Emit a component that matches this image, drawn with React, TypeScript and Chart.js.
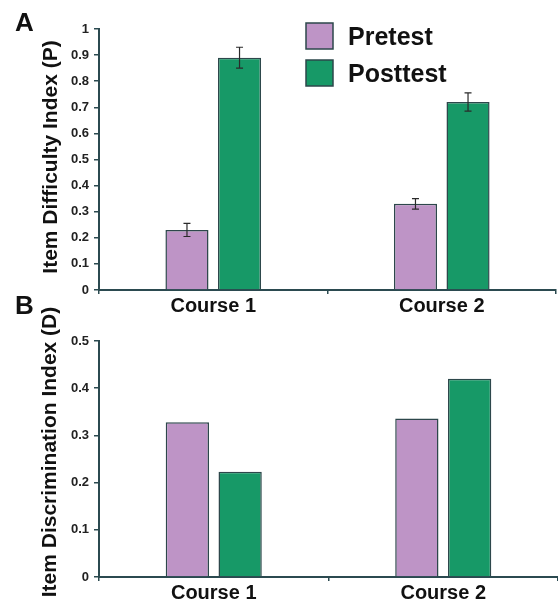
import React, { useEffect, useRef } from 'react';
import { Chart, registerables } from 'chart.js';

Chart.register(...registerables);

// ---------- data ----------
const categories = ['Course 1', 'Course 2'];
const seriesNames = ['Pretest', 'Posttest'];

const difficultyPre = [0.23, 0.33];
const difficultyPost = [0.89, 0.72];
const difficultyPreErr = [0.025, 0.02];
const difficultyPostErr = [0.04, 0.035];

const discriminationPre = [0.328, 0.336];
const discriminationPost = [0.223, 0.42];

const yTicksA = ['0', '0.1', '0.2', '0.3', '0.4', '0.5', '0.6', '0.7', '0.8', '0.9', '1'];
const yTicksB = ['0', '0.1', '0.2', '0.3', '0.4', '0.5'];

const panelLetters = ['A', 'B'];
const yTitles = ['Item Difficulty Index (P)', 'Item Discrimination Index (D)'];

// ---------- style ----------
const FONT = '"Liberation Sans", Arial, Helvetica, sans-serif';
const PRE_COLOR = '#be94c6';
const POST_COLOR = '#179967';
const EDGE = '#2d474b';
const AXIS = '#2b4a50';
const TEXT = '#111111';

Chart.defaults.font.family = FONT;

type PanelOpts = {
  letter: string;
  letterY: number;
  title: string;
  titleX: number;
  titleY: number;
  errors?: number[][];
  legend?: boolean;
};

function makeOverlay(o: PanelOpts) {
  return {
    id: 'overlay' + o.letter,
    afterDraw(chart: any) {
      const ctx = chart.ctx as CanvasRenderingContext2D;
      ctx.save();
      // error bars
      if (o.errors) {
        const ys = chart.scales.y;
        ctx.strokeStyle = '#2a2a2a';
        ctx.lineWidth = 1.2;
        o.errors.forEach((errs, di) => {
          const meta = chart.getDatasetMeta(di);
          const vals = chart.data.datasets[di].data as number[];
          meta.data.forEach((bar: any, j: number) => {
            const v = vals[j];
            const e = errs[j];
            const yTop = ys.getPixelForValue(v + e);
            const yBot = ys.getPixelForValue(v - e);
            const x = bar.x;
            const cap = 3.5;
            ctx.beginPath();
            ctx.moveTo(x, yTop);
            ctx.lineTo(x, yBot);
            ctx.moveTo(x - cap, yTop);
            ctx.lineTo(x + cap, yTop);
            ctx.moveTo(x - cap, yBot);
            ctx.lineTo(x + cap, yBot);
            ctx.stroke();
          });
        });
      }
      // panel letter
      ctx.fillStyle = TEXT;
      ctx.font = `bold 26px ${FONT}`;
      ctx.textAlign = 'left';
      ctx.textBaseline = 'alphabetic';
      ctx.fillText(o.letter, 15, o.letterY);
      // y title
      ctx.save();
      ctx.translate(o.titleX, o.titleY);
      ctx.rotate(-Math.PI / 2);
      ctx.font = `bold 21px ${FONT}`;
      ctx.textAlign = 'center';
      ctx.textBaseline = 'alphabetic';
      ctx.fillText(o.title, 0, 0);
      ctx.restore();
      // legend
      if (o.legend) {
        const ds = chart.data.datasets;
        const boxTops = [23, 60];
        ds.forEach((d: any, i: number) => {
          const top = boxTops[i];
          ctx.fillStyle = d.backgroundColor;
          ctx.fillRect(306, top, 27, 26);
          ctx.strokeStyle = EDGE;
          ctx.lineWidth = 1.5;
          ctx.strokeRect(306, top, 27, 26);
          ctx.fillStyle = TEXT;
          ctx.font = `bold 25px ${FONT}`;
          ctx.textAlign = 'left';
          ctx.textBaseline = 'alphabetic';
          ctx.fillText(d.label, 348, top + 21.5);
        });
      }
      ctx.restore();
    },
  };
}

function buildConfig(
  pre: number[],
  post: number[],
  yMax: number,
  tickLabels: string[],
  padTop: number,
  padRight: number,
  xHeight: number,
  overlay: any
): any {
  return {
    type: 'bar',
    data: {
      labels: categories,
      datasets: [
        {
          label: seriesNames[0],
          data: pre,
          backgroundColor: PRE_COLOR,
          borderColor: EDGE,
          borderWidth: 1.5,
        },
        {
          label: seriesNames[1],
          data: post,
          backgroundColor: POST_COLOR,
          borderColor: EDGE,
          borderWidth: 1.5,
        },
      ],
    },
    options: {
      responsive: false,
      animation: false,
      events: [],
      layout: { padding: { top: padTop, right: padRight, left: 0, bottom: 0 } },
      datasets: { bar: { categoryPercentage: 0.46, barPercentage: 0.82 } },
      plugins: {
        legend: { display: false },
        tooltip: { enabled: false },
        title: { display: false },
      },
      scales: {
        x: {
          z: 1,
          grid: {
            offset: true,
            drawOnChartArea: false,
            drawTicks: true,
            tickLength: 4,
            color: AXIS,
            lineWidth: 1.5,
          },
          border: { display: true, color: AXIS, width: 2 },
          ticks: {
            padding: 0,
            color: TEXT,
            font: { size: 20, weight: 'bold', family: FONT },
          },
          afterFit: (s: any) => {
            s.height = xHeight;
          },
        },
        y: {
          z: 1,
          min: 0,
          max: yMax,
          grid: {
            drawOnChartArea: false,
            drawTicks: true,
            tickLength: 5,
            color: AXIS,
            lineWidth: 1.5,
          },
          border: { display: true, color: AXIS, width: 2 },
          ticks: {
            stepSize: 0.1,
            padding: 5,
            color: '#222222',
            font: { size: 13, weight: 'bold', family: FONT },
            callback: (v: any, i: number) =>
              tickLabels[i] !== undefined ? tickLabels[i] : String(Math.round(Number(v) * 10) / 10),
          },
          afterFit: (s: any) => {
            s.width = 99;
          },
        },
      },
    },
    plugins: [overlay],
  };
}

export default function App() {
  const refA = useRef<HTMLCanvasElement>(null);
  const refB = useRef<HTMLCanvasElement>(null);

  useEffect(() => {
    const a = new Chart(
      refA.current as HTMLCanvasElement,
      buildConfig(
        difficultyPre,
        difficultyPost,
        1,
        yTicksA,
        29,
        2,
        30,
        makeOverlay({
          letter: panelLetters[0],
          letterY: 31,
          title: yTitles[0],
          titleX: 57,
          titleY: 157,
          errors: [difficultyPreErr, difficultyPostErr],
          legend: true,
        })
      )
    );
    const b = new Chart(
      refB.current as HTMLCanvasElement,
      buildConfig(
        discriminationPre,
        discriminationPost,
        0.5,
        yTicksB,
        51,
        0,
        25,
        makeOverlay({
          letter: panelLetters[1],
          letterY: 24,
          title: yTitles[1],
          titleX: 56,
          titleY: 162,
        })
      )
    );
    return () => {
      a.destroy();
      b.destroy();
    };
  }, []);

  return (
    <div style={{ position: 'absolute', left: 0, top: 0, width: 558, height: 602, background: '#ffffff' }}>
      <canvas
        ref={refA}
        width={558}
        height={320}
        style={{ position: 'absolute', left: 0, top: 0, width: 558, height: 320 }}
      />
      <canvas
        ref={refB}
        width={558}
        height={312}
        style={{ position: 'absolute', left: 0, top: 290, width: 558, height: 312 }}
      />
    </div>
  );
}
